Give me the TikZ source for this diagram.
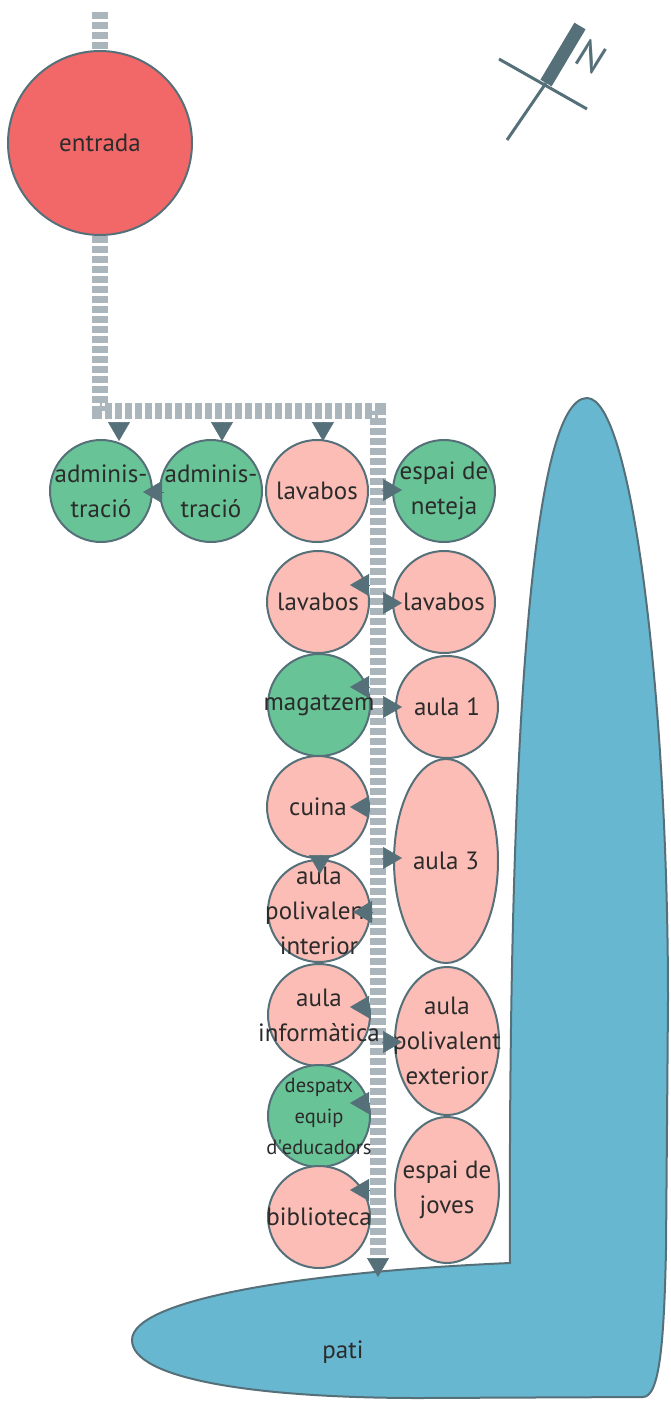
\documentclass[tikz,border=0pt]{standalone}
\usepackage{fontspec}
\setmainfont{PT Sans}
\usetikzlibrary{arrows.meta,shapes.geometric,backgrounds}
\definecolor{slate}{HTML}{56707A}
\definecolor{corr}{HTML}{AAB6BB}
\definecolor{rgreen}{HTML}{68C396}
\definecolor{rpink}{HTML}{FBBDB5}
\definecolor{rred}{HTML}{F26868}
\definecolor{rblue}{HTML}{67B7D1}
\definecolor{txt}{HTML}{2B2B2B}
\tikzset{
  room/.style={circle, draw=slate, line width=2pt, inner sep=0pt, minimum size=102pt},
  greenroom/.style={room, fill=rgreen},
  pinkroom/.style={room, fill=rpink},
  ovalroom/.style={ellipse, draw=slate, line width=2pt, inner sep=0pt, fill=rpink, minimum width=104pt},
  lbl/.style={text=txt, align=center, font=\fontsize{25}{35}\selectfont},
  smalllbl/.style={text=txt, align=center, font=\fontsize{20.5}{31}\selectfont},
  corridor/.style={corr, line width=16pt, dash pattern=on 7pt off 3pt},
  tip/.style={slate, line width=0.5pt, -{Triangle[length=19pt,width=22pt]}},
}
\begin{document}
\begin{tikzpicture}[x=1pt,y=-1pt]
\useasboundingbox (0,0) rectangle (670,1403);

% rooms
\node[room, fill=rred, minimum size=184pt, label={[lbl]center:entrada}] (entrada) at (100,143) {};
\node[greenroom, label={[lbl]center:adminis-\\tració}] (adm1) at (101,491) {};
\node[greenroom, label={[lbl]center:adminis-\\tració}] (adm2) at (211,491) {};
\node[pinkroom, label={[lbl]center:lavabos}] (lav1) at (317,491) {};
\node[greenroom, label={[lbl]center:espai de\\neteja}] (net) at (444,491) {};
\node[pinkroom, label={[lbl]center:lavabos}] (lav2) at (318,602) {};
\node[pinkroom, label={[lbl]center:lavabos}] (lav3) at (444,602) {};
\node[greenroom, label={[lbl]center:magatzem}] (mag) at (319,705) {};
\node[pinkroom, label={[lbl]center:aula 1}] (aula1) at (447,707) {};
\node[pinkroom, label={[lbl]center:cuina}] (cuina) at (318,807) {};
\node[ovalroom, minimum height=204pt, label={[lbl]center:aula 3}] (aula3) at (446,861) {};
\node[pinkroom, label={[lbl]center:aula\\polivalent\\interior}] (api) at (319,911) {};
\node[pinkroom, label={[lbl]center:aula\\informàtica}] (inf) at (319,1015) {};
\node[ovalroom, minimum height=148pt, label={[lbl]center:aula\\polivalent\\exterior}] (ape) at (447,1041) {};
\node[greenroom, label={[smalllbl]center:despatx\\equip\\d\textquotesingle educadors}] (desp) at (319,1116) {};
\node[pinkroom, label={[lbl]center:biblioteca}] (bib) at (319,1217) {};
\node[ovalroom, minimum height=146pt, label={[lbl]center:espai de\\joves}] (joves) at (447,1190) {};

% corridor coordinates
\coordinate (start) at (100,12);
\coordinate (c1) at (100,411);
\coordinate (c2) at (378,411);
\coordinate (cend) at (378,1258);

\begin{scope}[on background layer]
% pati
\path[draw=slate, fill=rblue, line width=2pt]
  (510,1263) .. controls (508,760) and (530,398) .. (587,398)
  .. controls (632,398) and (668,700) .. (668,1000)
  -- (666,1250) .. controls (664,1340) and (660,1397) .. (643,1397)
  -- (420,1398) .. controls (250,1398) and (132,1378) .. (132,1340)
  .. controls (132,1300) and (300,1272) .. (510,1263) -- cycle;
% corridor
\draw[corridor] (start) -- (entrada.north);
\draw[corridor] (entrada.south) -- (c1) -- (c2) -- (cend);
\end{scope}
\node[lbl] (pati) at (343,1352) {pati};

% arrows
\draw[tip] (119,422) -- (119,441);
\draw[tip] (222,422) -- (222,441);
\draw[tip] (323,422) -- (323,441);
\draw[tip] (164,492) -- (143,492);
\draw[tip] (382,490) -- (402,490);
\draw[tip] (370,585) -- (350,585);
\draw[tip] (382,603) -- (402,603);
\draw[tip] (370,687) -- (350,687);
\draw[tip] (382,707) -- (402,707);
\draw[tip] (370,807) -- (350,807);
\draw[tip] (382,858) -- (402,858);
\draw[tip] (320,855) -- (320,874);
\draw[tip] (372,912) -- (353,912);
\draw[tip] (370,1007) -- (350,1007);
\draw[tip] (382,1042) -- (402,1042);
\draw[tip] (370,1103) -- (350,1103);
\draw[tip] (370,1190) -- (350,1190);
\draw[tip] (cend) -- (378,1277);

% compass
\coordinate (nA) at (507,140);
\coordinate (nB) at (546,83);
\coordinate (nC) at (580,26);
\draw[slate, line width=3pt] (nA) -- (nB);
\draw[slate, line width=13pt] (nB) -- (nC);
\coordinate (xA) at (499,59);
\coordinate (xB) at (587,109);
\draw[slate, line width=3pt] (xA) -- (xB);
\node[text=slate, rotate=-32, font=\fontsize{40}{40}\selectfont] (N) at (591,57) {N};
\end{tikzpicture}
\end{document}
